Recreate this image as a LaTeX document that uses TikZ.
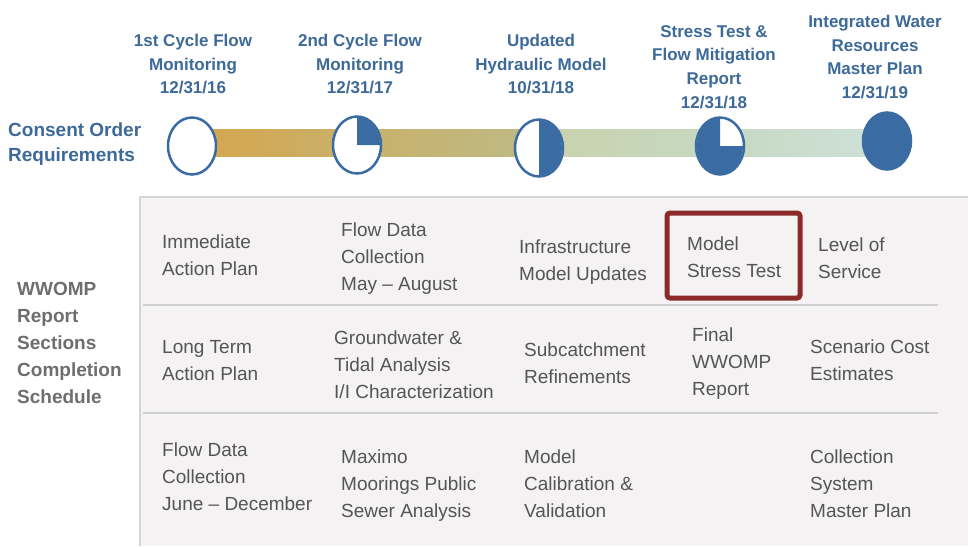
\documentclass[tikz,border=0pt]{standalone}
\usepackage{fontspec}
\setmainfont{Liberation Sans}
\usetikzlibrary{shapes.geometric,calc}
\definecolor{cblue}{HTML}{3A6CA3}
\definecolor{tblue}{HTML}{3D6A98}
\definecolor{lgray}{HTML}{6E6E6E}
\definecolor{bodytxt}{HTML}{555555}
\definecolor{panelfill}{HTML}{F4F2F3}
\definecolor{panelline}{HTML}{D6D4D5}
\definecolor{sepline}{HTML}{CFCFCF}
\definecolor{boxred}{HTML}{8C2A2A}
\definecolor{barA}{HTML}{D6A54D}
\definecolor{barB}{HTML}{C8B16A}
\definecolor{barC}{HTML}{BEBA86}
\definecolor{barD}{HTML}{C9D2AC}
\definecolor{barE}{HTML}{C6D9C2}
\definecolor{barF}{HTML}{CFE1DA}
\begin{document}
\begin{tikzpicture}[x=1pt,y=-1pt,
  title/.style={anchor=north, align=center, inner sep=0pt, text=tblue,
    font=\bfseries\fontsize{17}{23.7}\selectfont},
  sidelabel/.style={anchor=north west, align=left, inner sep=0pt,
    font=\bfseries\fontsize{19}{27}\selectfont},
  milestone/.style={ellipse, draw=cblue, line width=2.5pt, fill=white,
    minimum width=48pt, minimum height=57pt, inner sep=0pt},
  pie/.style={fill=cblue},
  cell/.style={anchor=north west, align=left, inner sep=0pt, text=bodytxt,
    font=\fontsize{19}{27}\selectfont},
  sep/.style={draw=sepline, line width=1.5pt},
  stressbox/.style={draw=boxred, line width=5pt, rounded corners=3pt,
    minimum width=133pt, minimum height=85pt, inner sep=0pt}
]
\useasboundingbox (0,0) rectangle (968,546);
\fill[white] (0,0) rectangle (968,546);

% table panel
\fill[panelfill] (140,197) rectangle (968,546);
\draw[panelline, line width=1.5pt] (140,546) -- (140,197) -- (968,197);
\coordinate (s1a) at (143,305); \coordinate (s1b) at (938,305);
\coordinate (s2a) at (143,413); \coordinate (s2b) at (938,413);
\draw[sep] (s1a) -- (s1b);
\draw[sep] (s2a) -- (s2b);

% timeline bar
\coordinate (p1) at (192,146);
\coordinate (p2) at (357,145);
\coordinate (p3) at (539,148);
\coordinate (p4) at (720,146);
\coordinate (p5) at (887,141);
\coordinate (bt) at (0,129);
\coordinate (bb) at (0,156);
\shade[left color=barA, right color=barB] (p1 |- bt) rectangle (p2 |- bb);
\shade[left color=barB, right color=barC] (p2 |- bt) rectangle (p3 |- bb);
\shade[left color=barD, right color=barE] (p3 |- bt) rectangle (p4 |- bb);
\shade[left color=barE, right color=barF] (p4 |- bt) rectangle (p5 |- bb);

% milestones
\node[milestone] (m1) at (p1) {};
\node[milestone] (m2) at (p2) {};
\node[milestone] (m3) at (p3) {};
\node[milestone] (m4) at (p4) {};
\node[milestone, fill=cblue] (m5) at (p5) {};
\fill[pie] (m2.center) -- ++(0,-27.5) arc[start angle=-90, end angle=0, x radius=23, y radius=27.5] -- cycle;
\fill[pie] (m3.center) -- ++(0,-27.5) arc[start angle=-90, end angle=90, x radius=23, y radius=27.5] -- cycle;
\fill[pie] (m4.center) -- ++(23,0) arc[start angle=0, end angle=270, x radius=23, y radius=27.5] -- cycle;

% milestone titles
\node[title] (t1) at (193,34) {1st Cycle Flow\\Monitoring\\12/31/16};
\node[title] (t2) at (360,34) {2nd Cycle Flow\\Monitoring\\12/31/17};
\node[title] (t3) at (541,34) {Updated\\Hydraulic Model\\10/31/18};
\node[title] (t4) at (714,25) {Stress Test \&\\Flow Mitigation\\Report\\12/31/18};
\node[title] (t5) at (875,15) {Integrated Water\\Resources\\Master Plan\\12/31/19};

% side labels
\node[sidelabel, text=tblue, font=\bfseries\fontsize{19}{25}\selectfont] (consent) at (8,123) {Consent Order\\Requirements};
\node[sidelabel, text=lgray] (wwomp) at (17,282) {WWOMP\\Report\\Sections\\Completion\\Schedule};

% red box
\node[stressbox] (sbox) at (733.5,255.5) {};

% row 1
\node[cell] (r1c1) at (162,235) {Immediate\\Action Plan};
\node[cell] (r1c2) at (341,223) {Flow Data\\Collection\\May – August};
\node[cell] (r1c3) at (519,240) {Infrastructure\\Model Updates};
\node[cell] (r1c4) at (687,237) {Model\\Stress Test};
\node[cell] (r1c5) at (818,238) {Level of\\Service};
% row 2
\node[cell] (r2c1) at (162,340) {Long Term\\Action Plan};
\node[cell] (r2c2) at (334,331) {Groundwater \&\\Tidal Analysis\\I/I Characterization};
\node[cell] (r2c3) at (524,343) {Subcatchment\\Refinements};
\node[cell] (r2c4) at (692,328) {Final\\WWOMP\\Report};
\node[cell] (r2c5) at (810,340) {Scenario Cost\\Estimates};
% row 3
\node[cell] (r3c1) at (162,443) {Flow Data\\Collection\\June – December};
\node[cell] (r3c2) at (341,450) {Maximo\\Moorings Public\\Sewer Analysis};
\node[cell] (r3c3) at (524,450) {Model\\Calibration \&\\Validation};
\node[cell] (r3c5) at (810,450) {Collection\\System\\Master Plan};
\end{tikzpicture}
\end{document}
